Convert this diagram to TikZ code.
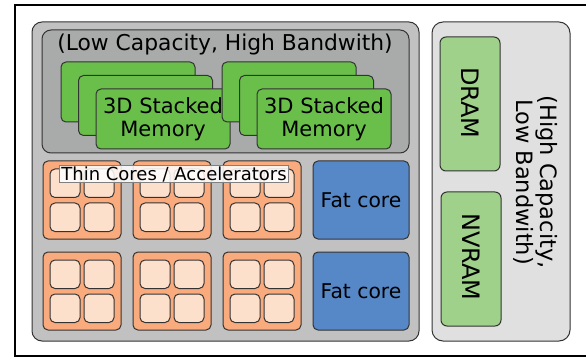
\documentclass[tikz,border=0pt]{standalone}
\usepackage{fontspec}
\setmainfont{DejaVu Sans}
\definecolor{chipgray}{HTML}{C0C1C0}
\definecolor{memgray}{HTML}{A9ABAB}
\definecolor{stackgreen}{HTML}{6ABF4B}
\definecolor{ramgreen}{HTML}{9FD18B}
\definecolor{offgray}{HTML}{E0E0E0}
\definecolor{tileorange}{HTML}{F9AB7D}
\definecolor{cellpeach}{HTML}{FDE0CC}
\definecolor{fatblue}{HTML}{5687C7}
\definecolor{edge}{HTML}{333333}
\tikzset{
  x=1pt, y=-1pt,
  box/.style={draw=edge, line width=1pt},
  chip/.style={box, fill=chipgray, rounded corners=10pt},
  membank/.style={box, fill=memgray, rounded corners=9pt},
  offchip/.style={box, fill=offgray, rounded corners=11pt},
  stacklayer/.style={box, fill=stackgreen, rounded corners=5pt},
  ramchip/.style={box, fill=ramgreen, rounded corners=6pt},
  tile/.style={box, fill=tileorange, rounded corners=5pt},
  cell/.style={box, fill=cellpeach, rounded corners=5pt},
  fatcore/.style={box, fill=fatblue, rounded corners=5pt},
  lbl/.style={font=\fontsize{21.8}{23.5}\selectfont, align=center, inner sep=0pt},
  stacklbl/.style={font=\fontsize{21}{23}\selectfont, align=center, inner sep=0pt},
  fatlbl/.style={font=\fontsize{20.3}{22}\selectfont},
  ramlbl/.style={font=\fontsize{24}{26}\selectfont, rotate=-90},
}
\begin{document}
\begin{tikzpicture}
\useasboundingbox (0,0) rectangle (586,358);
% outer frame
\draw[line width=2pt] (15,5) rectangle (592,356);

% on-chip part
\draw[chip] (32,22) rectangle (419,341);
\draw[membank] (42,30) rectangle (409,153);
\node[lbl] (hbmlabel) at (225,44) {(Low Capacity, High Bandwith)};

% two stacks of 3D memory, three layers each
\foreach \sx/\nm in {61/a,222/b}{
  \foreach \k in {0,1,2}{
    \draw[stacklayer] (\sx+17.5*\k, 62+13.5*\k) rectangle ++(134,60);
  }
  \node[stacklbl] (stack\nm) at (\sx+35+67, 89+30) {3D Stacked\\Memory};
}

% thin core tiles
\foreach \tx [count=\i] in {43,133,223}{
  \foreach \ty [count=\j] in {161,252}{
    \draw[tile] (\tx,\ty) rectangle ++(78,78);
    \foreach \cx in {7,41}{
      \foreach \cy in {8,42}{
        \draw[cell] (\tx+\cx,\ty+\cy) rectangle ++(30,28.5);
      }
    }
  }
}
\node[font=\fontsize{18}{20}\selectfont, fill=white, fill opacity=0.85,
      text opacity=1, draw=gray, line width=0.5pt, inner xsep=2pt,
      inner ysep=1pt] (thinlabel) at (174,174) {Thin Cores / Accelerators};

% fat cores
\draw[fatcore] (313,161) rectangle (409,239);
\node[fatlbl] (fat1) at (361,200) {Fat core};
\draw[fatcore] (313,252) rectangle (409,330);
\node[fatlbl] (fat2) at (361,291) {Fat core};

% off-chip memory
\draw[offchip] (432,22) rectangle (570,341);
\draw[ramchip] (440,37) rectangle (500,171);
\node[ramlbl] (dram) at (470,103) {DRAM};
\draw[ramchip] (441,192) rectangle (501,326);
\node[ramlbl] (nvram) at (471,257) {NVRAM};
\node[lbl, font=\fontsize{22.5}{24}\selectfont, rotate=-90] (offlabel)
  at (536,182) {(High Capacity,\\Low Bandwith)};
\end{tikzpicture}
\end{document}
